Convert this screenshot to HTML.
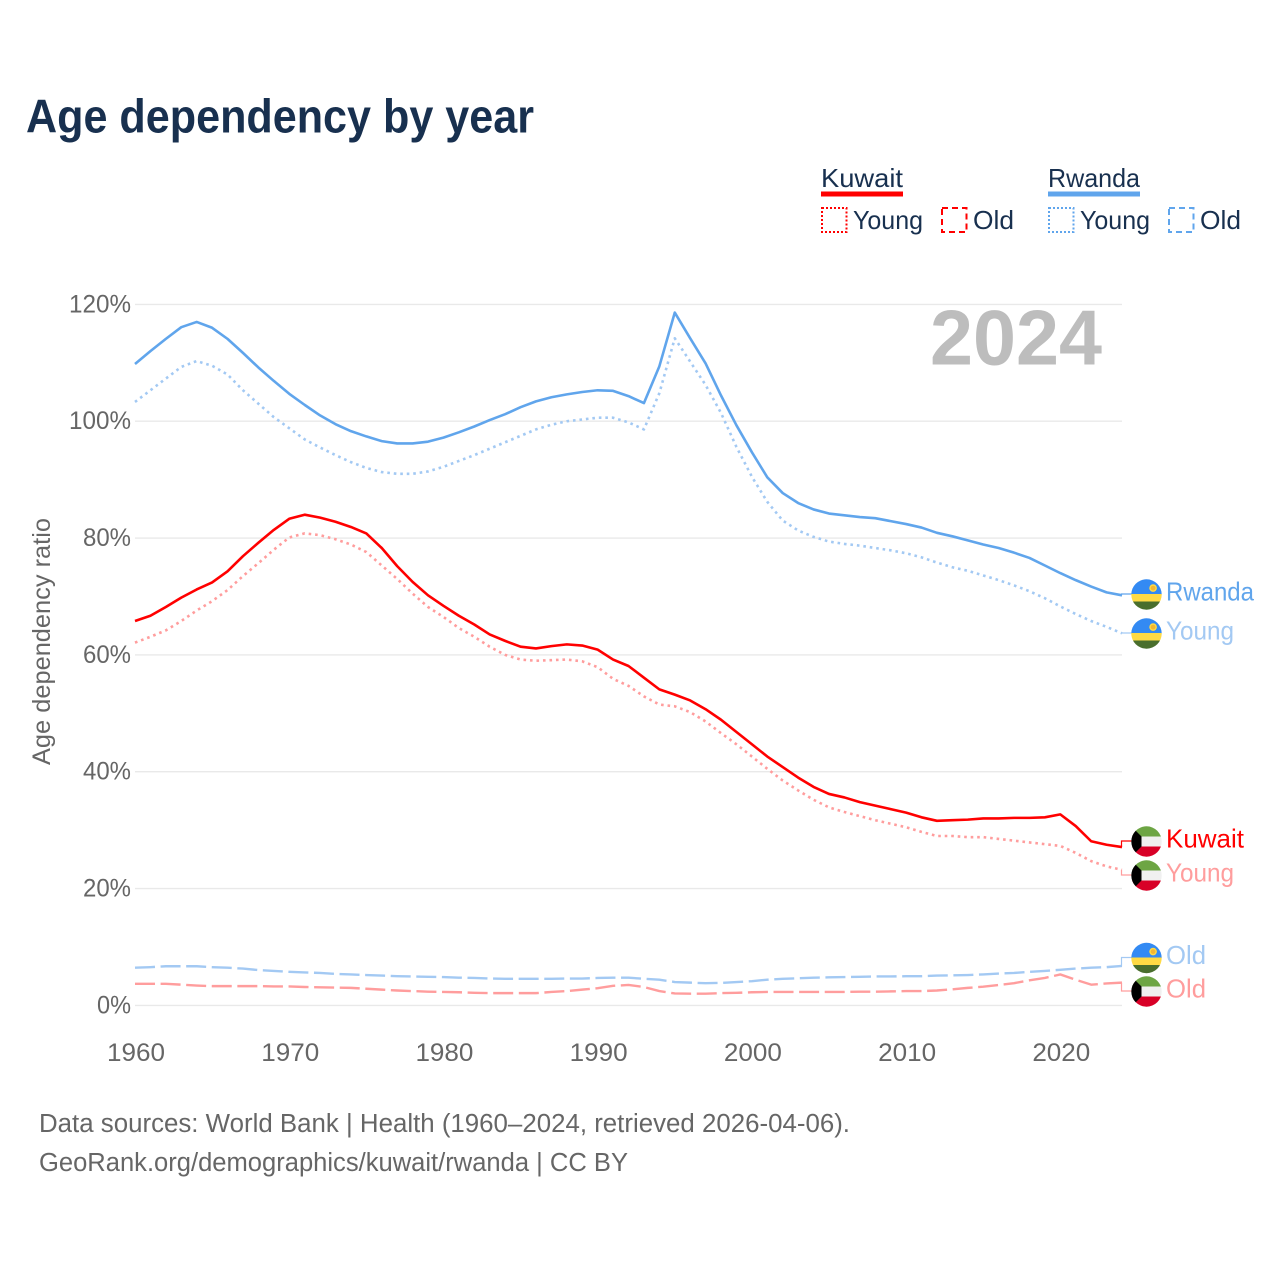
<!DOCTYPE html>
<html lang="en">
<head>
<meta charset="utf-8">
<title>Age dependency by year</title>
<style>
html,body{margin:0;padding:0;background:#fff;width:1280px;height:1280px;overflow:hidden}
svg{display:block}
text{font-family:"Liberation Sans",sans-serif}
</style>
</head>
<body>
<svg id="chart" xmlns="http://www.w3.org/2000/svg" width="1280" height="1280" viewBox="0 0 1280 1280">
  <defs>
    <clipPath id="flag-clip"><circle cx="0" cy="0" r="15.2"/></clipPath>
    <g id="flag-rwanda" clip-path="url(#flag-clip)">
      <rect x="-16" y="-16" width="32" height="16" fill="#338af3"/>
      <rect x="-16" y="-0.5" width="32" height="7.5" fill="#ffda44"/>
      <rect x="-16" y="7" width="32" height="9" fill="#496e2d"/>
      <circle cx="6.6" cy="-6.4" r="3.8" fill="#ffda44"/>
      <circle cx="6.6" cy="-6.4" r="2.4" fill="#f2b632"/>
    </g>
    <g id="flag-kuwait" clip-path="url(#flag-clip)">
      <rect x="-16" y="-16" width="32" height="11.5" fill="#6da544"/>
      <rect x="-16" y="-5" width="32" height="10.5" fill="#f0f0f0"/>
      <rect x="-16" y="5" width="32" height="11" fill="#d80027"/>
      <polygon points="-16,-16 -5,-5 -5,5 -16,16" fill="#000"/>
    </g>
  </defs>

  <text x="26" y="132.5" font-size="47" font-weight="700" fill="#18304f" textLength="508" lengthAdjust="spacingAndGlyphs">Age dependency by year</text>

  <g font-size="26" fill="#18304f">
    <g>
      <text x="821" y="187" textLength="82" lengthAdjust="spacingAndGlyphs">Kuwait</text>
      <rect x="821" y="191.5" width="82" height="5" fill="#ff0000"/>
      <rect x="822" y="208" width="24.5" height="24" fill="none" stroke="#ff0000" stroke-width="2" stroke-dasharray="2 2"/>
      <text x="853" y="229" textLength="70" lengthAdjust="spacingAndGlyphs">Young</text>
      <rect x="942" y="208" width="24.5" height="24" fill="none" stroke="#ff0000" stroke-width="2" stroke-dasharray="6 4"/>
      <text x="973" y="229" textLength="41" lengthAdjust="spacingAndGlyphs">Old</text>
    </g>
    <g>
      <text x="1048" y="187" textLength="92" lengthAdjust="spacingAndGlyphs">Rwanda</text>
      <rect x="1048" y="191.5" width="92" height="5" fill="#60a5ec"/>
      <rect x="1049" y="208" width="24.5" height="24" fill="none" stroke="#60a5ec" stroke-width="2" stroke-dasharray="2 2"/>
      <text x="1080" y="229" textLength="70" lengthAdjust="spacingAndGlyphs">Young</text>
      <rect x="1169" y="208" width="24.5" height="24" fill="none" stroke="#60a5ec" stroke-width="2" stroke-dasharray="6 4"/>
      <text x="1200" y="229" textLength="41" lengthAdjust="spacingAndGlyphs">Old</text>
    </g>
  </g>

  <g id="grid"></g>
  <g id="y-ticks"></g>
  <g id="x-ticks"></g>

  <text transform="translate(50,641.5) rotate(-90)" text-anchor="middle" font-size="25" fill="#666666" textLength="247" lengthAdjust="spacingAndGlyphs">Age dependency ratio</text>

  <text x="930" y="364.5" font-size="78" font-weight="700" fill="#bdbdbd" textLength="172" lengthAdjust="spacingAndGlyphs">2024</text>

  <g id="lines"></g>
  <g id="end-labels"></g>

  <text x="39" y="1132" font-size="25.5" fill="#666666" textLength="811" lengthAdjust="spacingAndGlyphs">Data sources: World Bank | Health (1960–2024, retrieved 2026-04-06).</text>
  <text x="39" y="1171" font-size="25.5" fill="#666666" textLength="589" lengthAdjust="spacingAndGlyphs">GeoRank.org/demographics/kuwait/rwanda | CC BY</text>
</svg>

<script>
const years = [
  1960,1961,1962,1963,1964,1965,1966,1967,1968,1969,
  1970,1971,1972,1973,1974,1975,1976,1977,1978,1979,
  1980,1981,1982,1983,1984,1985,1986,1987,1988,1989,
  1990,1991,1992,1993,1994,1995,1996,1997,1998,1999,
  2000,2001,2002,2003,2004,2005,2006,2007,2008,2009,
  2010,2011,2012,2013,2014,2015,2016,2017,2018,2019,
  2020,2021,2022,2023,2024
];
const rwandaTotal = [
  109.8,112,114.1,116.1,117,116,114.1,111.7,109.2,106.9,
  104.7,102.8,101,99.5,98.3,97.4,96.6,96.2,96.2,96.5,
  97.2,98.1,99.1,100.2,101.2,102.4,103.4,104.1,104.6,105,
  105.3,105.2,104.3,103.1,109.4,118.6,114.2,109.9,104.4,99.3,
  94.7,90.4,87.7,86,84.9,84.2,83.9,83.6,83.4,82.9,
  82.4,81.8,80.9,80.3,79.6,78.9,78.3,77.5,76.6,75.3,
  74,72.8,71.7,70.7,70.2
];
const rwandaYoung = [
  103.3,105.3,107.3,109.3,110.3,109.5,108,105.3,103,100.7,
  98.8,96.9,95.5,94.2,93,92,91.3,91,91,91.4,
  92.2,93.2,94.2,95.3,96.4,97.5,98.6,99.4,100,100.3,
  100.6,100.6,99.8,98.6,104.8,114.2,110.2,106.2,101.4,95.6,
  90.5,86.2,83,81.3,80.2,79.4,79,78.7,78.3,77.9,
  77.4,76.7,75.8,75,74.4,73.6,72.8,71.9,70.9,69.7,
  68.3,67,65.8,64.8,63.7
];
const rwandaOld = [
  6.45,6.55,6.7,6.7,6.7,6.55,6.45,6.3,6.05,5.9,
  5.75,5.65,5.55,5.4,5.3,5.2,5.1,5,4.95,4.9,
  4.85,4.75,4.7,4.6,4.55,4.55,4.55,4.55,4.6,4.6,
  4.7,4.75,4.75,4.55,4.4,4,3.9,3.8,3.85,4,
  4.15,4.4,4.55,4.65,4.75,4.8,4.85,4.9,4.95,4.95,
  5,5,5.1,5.15,5.2,5.3,5.45,5.55,5.75,5.9,
  6.1,6.3,6.45,6.55,6.75
];
const kuwaitTotal = [
  65.8,66.7,68.2,69.8,71.2,72.4,74.3,76.9,79.2,81.4,
  83.3,84,83.5,82.8,81.9,80.8,78.3,75.2,72.5,70.2,
  68.4,66.7,65.2,63.5,62.4,61.4,61.1,61.5,61.8,61.6,
  60.9,59.2,58.1,56.1,54.1,53.2,52.2,50.7,48.9,46.8,
  44.7,42.6,40.8,39,37.4,36.2,35.6,34.8,34.2,33.6,
  33,32.2,31.6,31.7,31.8,32,32,32.1,32.1,32.2,
  32.7,30.7,28.1,27.5,27.1
];
const kuwaitYoung = [
  62.1,63.1,64.2,65.8,67.6,69.2,71.1,73.5,75.7,78,
  80.1,80.8,80.5,79.8,78.9,77.6,75.3,73,70.5,68.2,
  66.5,64.6,63.1,61.4,60,59.2,59,59.1,59.2,58.9,
  57.9,55.9,54.7,52.9,51.5,51.2,50.2,48.6,46.6,44.7,
  42.6,40.5,38.5,36.8,35.2,33.9,33.1,32.4,31.7,31.1,
  30.5,29.7,29,29,28.8,28.8,28.5,28.2,27.9,27.6,
  27.3,26.1,24.7,23.8,23.2
];
const kuwaitOld = [
  3.7,3.7,3.7,3.55,3.4,3.3,3.3,3.3,3.3,3.25,
  3.25,3.15,3.1,3.05,3,2.85,2.7,2.55,2.45,2.35,
  2.3,2.25,2.15,2.1,2.1,2.1,2.1,2.3,2.45,2.7,
  2.95,3.35,3.5,3.15,2.45,2.05,2,2,2.1,2.15,
  2.25,2.3,2.3,2.3,2.3,2.3,2.3,2.35,2.35,2.4,
  2.45,2.45,2.55,2.75,3,3.2,3.5,3.8,4.3,4.7,
  5.3,4.4,3.55,3.75,3.9
];
const yTickValues = [0,20,40,60,80,100,120];
const xTickValues = [1960,1970,1980,1990,2000,2010,2020];

const NS = 'http://www.w3.org/2000/svg';
const RED = '#ff0000', RED_LIGHT = '#ff9d9d', BLUE = '#60a5ec', BLUE_LIGHT = '#a3c9f3';

function xScale(year){ return 135 + (year - 1960) * (1122 - 135) / 64; }
function yScale(v){ return 1005.4 - v * (1005.4 - 304.4) / 120; }

const gridG = document.getElementById('grid');
const yG = document.getElementById('y-ticks');
const xG = document.getElementById('x-ticks');
const linesG = document.getElementById('lines');
const labelsG = document.getElementById('end-labels');

yTickValues.forEach(function(v){
  const line = document.createElementNS(NS,'line');
  
  
  line.setAttribute('x1', 135);
  line.setAttribute('x2', 1122);
  line.setAttribute('y1', yScale(v));
  line.setAttribute('y2', yScale(v));
  line.setAttribute('stroke', '#e9e9e9');
  line.setAttribute('stroke-width', '1.4');
  gridG.appendChild(line);

  const t = document.createElementNS(NS,'text');
  
  
  t.setAttribute('x', 131);
  t.setAttribute('y', yScale(v) + 8);
  t.setAttribute('text-anchor', 'end');
  t.setAttribute('font-size', '25');
  t.setAttribute('fill', '#666666');
  const s = v + '%';
  t.setAttribute('textLength', s.length === 4 ? 62 : s.length === 3 ? 48 : 34);
  t.setAttribute('lengthAdjust', 'spacingAndGlyphs');
  t.textContent = s;
  yG.appendChild(t);
});

xTickValues.forEach(function(yr){
  const t = document.createElementNS(NS,'text');
  
  
  t.setAttribute('x', xScale(yr) + 1);
  t.setAttribute('y', 1061);
  t.setAttribute('text-anchor', 'middle');
  t.setAttribute('font-size', '25');
  t.setAttribute('fill', '#666666');
  t.setAttribute('textLength', 58);
  t.setAttribute('lengthAdjust', 'spacingAndGlyphs');
  t.textContent = String(yr);
  xG.appendChild(t);
});

function drawLine(values, color, width, dash, name){
  const d = values.map(function(v,i){
    return (i ? 'L' : 'M') + xScale(years[i]).toFixed(2) + ' ' + yScale(v).toFixed(2);
  }).join('');
  const p = document.createElementNS(NS,'path');
  
  
  p.setAttribute('d', d);
  p.setAttribute('fill', 'none');
  p.setAttribute('stroke', color);
  p.setAttribute('stroke-width', width);
  p.setAttribute('stroke-linejoin', 'round');
  if (dash) p.setAttribute('stroke-dasharray', dash);
  linesG.appendChild(p);
}

const DOT = '2.6 3.9', DASH = '20 5.6';
drawLine(rwandaOld, BLUE_LIGHT, 2.4, DASH, 'line-rwanda-old');
drawLine(kuwaitOld, RED_LIGHT, 2.4, DASH, 'line-kuwait-old');
drawLine(rwandaYoung, BLUE_LIGHT, 2.6, DOT, 'line-rwanda-young');
drawLine(kuwaitYoung, RED_LIGHT, 2.6, DOT, 'line-kuwait-young');
drawLine(rwandaTotal, BLUE, 2.6, null, 'line-rwanda-total');
drawLine(kuwaitTotal, RED, 2.6, null, 'line-kuwait-total');

function endLabel(values, flag, labelY, text, width, color, name){
  const endY = yScale(values[values.length - 1]);
  const c = document.createElementNS(NS,'path');
  
  
  c.setAttribute('d', 'M1121.5 ' + endY.toFixed(2) + 'V' + labelY + 'H1132');
  c.setAttribute('fill', 'none');
  c.setAttribute('stroke', color);
  c.setAttribute('stroke-width', '1.2');
  labelsG.appendChild(c);

  const u = document.createElementNS(NS,'use');
  
  
  u.setAttribute('href', '#flag-' + flag);
  u.setAttribute('transform', 'translate(1146.5,' + (labelY + 0.5) + ')');
  labelsG.appendChild(u);

  const t = document.createElementNS(NS,'text');
  
  
  t.setAttribute('x', 1166);
  t.setAttribute('y', labelY + 6.5);
  t.setAttribute('font-size', '26');
  t.setAttribute('fill', color);
  t.setAttribute('textLength', width);
  t.setAttribute('lengthAdjust', 'spacingAndGlyphs');
  t.textContent = text;
  labelsG.appendChild(t);
}

endLabel(rwandaTotal, 'rwanda', 594, 'Rwanda', 88, BLUE, 'end-rwanda-total');
endLabel(rwandaYoung, 'rwanda', 633, 'Young', 68, BLUE_LIGHT, 'end-rwanda-young');
endLabel(kuwaitTotal, 'kuwait', 841, 'Kuwait', 78, RED, 'end-kuwait-total');
endLabel(kuwaitYoung, 'kuwait', 875, 'Young', 68, RED_LIGHT, 'end-kuwait-young');
endLabel(rwandaOld, 'rwanda', 957.5, 'Old', 40, BLUE_LIGHT, 'end-rwanda-old');
endLabel(kuwaitOld, 'kuwait', 991, 'Old', 40, RED_LIGHT, 'end-kuwait-old');
</script>
</body>
</html>
